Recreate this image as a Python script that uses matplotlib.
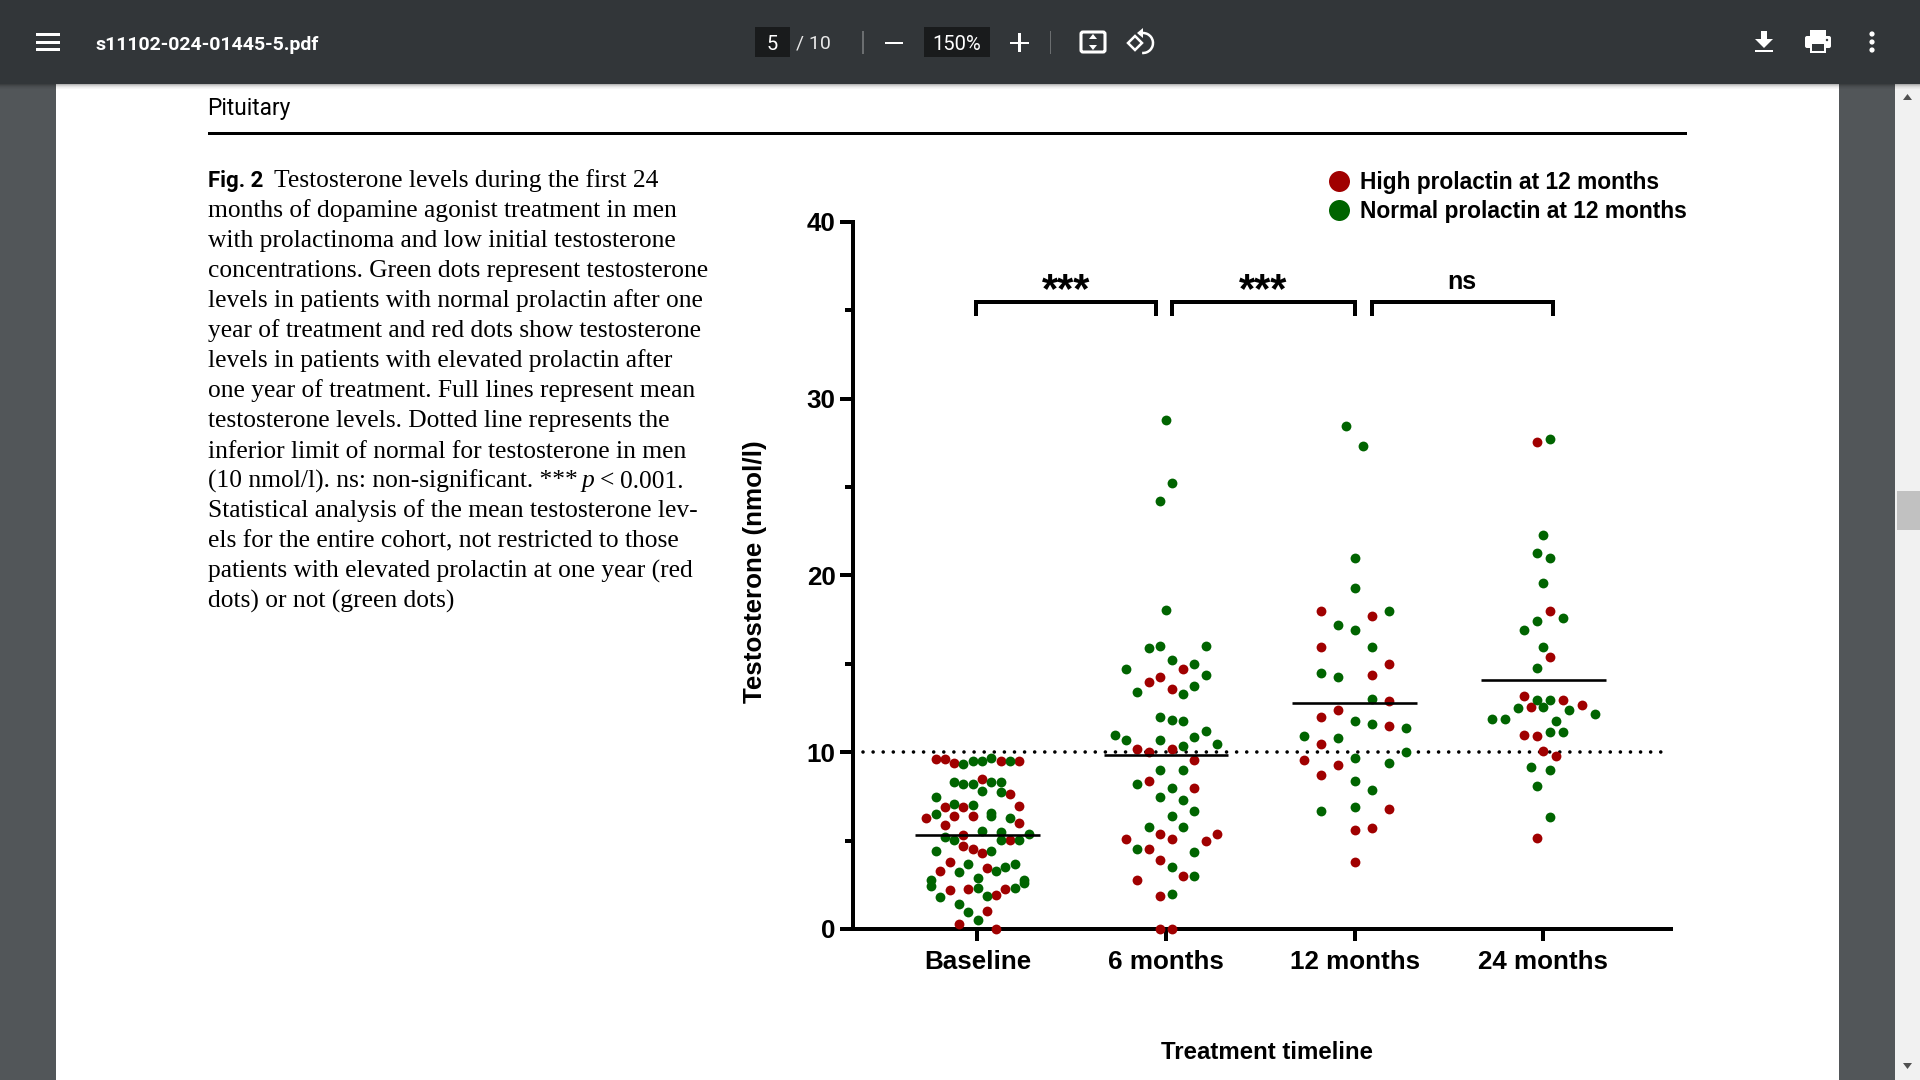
import matplotlib
matplotlib.use("Agg")
import matplotlib.pyplot as plt
from matplotlib.lines import Line2D
from matplotlib.patches import Rectangle, Circle, Polygon, Arc, FancyBboxPatch

# chart values
categories = ["Baseline", "6 months", "12 months", "24 months"]
means = [5.32, 9.87, 12.77, 14.08]
limit_normal = 10

# swarm offsets (in category widths) and testosterone values, nmol/l
base_high_dx = [-0.221, -0.173, -0.122, 0.124, 0.223, 0.027, 0.173, 0.223, -0.173, -0.074,
                -0.122, -0.025, -0.272, -0.173, 0.223, -0.074, 0.173, -0.074, -0.025, 0.027,
                -0.147, -0.196, 0.049, -0.147, -0.048, 0.148, 0.099, 0.049, -0.097, 0.099]
base_high_y = [9.60, 9.64, 9.40, 9.53, 9.51, 8.49, 7.64, 6.96, 6.91, 6.91,
               6.40, 6.40, 6.28, 5.89, 6.00, 5.30, 5.04, 4.72, 4.51, 4.28,
               3.79, 3.30, 3.47, 2.19, 2.25, 2.28, 1.91, 1.00, 0.28, 0.0]
base_norm_dx = [-0.074, -0.025, 0.027, 0.074, 0.173, -0.122, -0.074, -0.025, 0.074, 0.124,
                0.027, 0.124, -0.221, -0.122, -0.025, -0.221, 0.074, 0.074, 0.173, 0.027,
                0.124, 0.272, -0.173, -0.122, 0.124, 0.223, -0.221, 0.074, -0.048, 0.200,
                0.148, 0.099, -0.097, 0.002, -0.246, -0.246, 0.249, 0.249, 0.002, 0.200,
                -0.196, 0.049, -0.097, -0.048, 0.002]
base_norm_y = [9.32, 9.53, 9.51, 9.70, 9.51, 8.30, 8.21, 8.19, 8.30, 8.32,
               7.81, 7.75, 7.49, 7.09, 7.02, 6.51, 6.57, 6.40, 6.30, 5.55,
               5.49, 5.40, 5.21, 5.02, 5.02, 5.02, 4.40, 4.40, 3.70, 3.70,
               3.51, 3.30, 3.23, 2.91, 2.79, 2.42, 2.77, 2.58, 2.30, 2.30,
               1.81, 1.85, 1.42, 0.98, 0.49]

m6_high_dx = [0.09, -0.03, -0.09, 0.03, -0.152, -0.09, 0.03, 0.15, -0.09, 0.15,
              -0.03, 0.03, -0.21, 0.21, 0.272, -0.09, -0.03, 0.09, -0.152, -0.03, -0.03, 0.03]
m6_high_y = [14.70, 14.28, 14.0, 13.58, 10.19, 10.02, 10.19, 9.58, 8.40, 8.0,
             5.40, 5.09, 5.09, 5.0, 5.40, 4.51, 3.89, 3.0, 2.79, 1.89, 0.0, 0.0]
m6_norm_dx = [0.0, 0.03, -0.03, 0.0, -0.09, -0.03, 0.21, 0.03, 0.15, -0.21,
              0.21, 0.15, -0.152, 0.09, -0.03, 0.03, 0.09, -0.27, -0.21, -0.03,
              0.15, 0.21, 0.09, 0.272, -0.03, 0.09, -0.152, 0.03, -0.03, 0.09,
              0.15, 0.03, -0.09, 0.09, -0.152, 0.15, 0.03, 0.15, 0.03]
m6_norm_y = [28.81, 25.21, 24.21, 18.02, 15.91, 16.0, 16.0, 15.21, 15.0, 14.70,
             14.38, 13.72, 13.42, 13.30, 12.0, 11.83, 11.77, 11.0, 10.68, 10.70,
             10.89, 11.19, 10.38, 10.49, 9.0, 9.0, 8.21, 8.0, 7.49, 7.28,
             6.70, 6.40, 5.79, 5.79, 4.51, 4.36, 3.49, 3.0, 2.0]

m12_high_dx = [-0.18, 0.092, -0.18, 0.182, 0.092, 0.182, -0.09, -0.18, 0.182, -0.18,
               -0.27, -0.09, -0.18, 0.182, 0.092, 0.0, 0.0]
m12_high_y = [17.99, 17.70, 15.98, 14.99, 14.39, 12.88, 12.38, 11.99, 11.46, 10.49,
              9.57, 9.30, 8.69, 6.78, 5.71, 5.59, 3.78]
m12_norm_dx = [-0.046, 0.046, 0.0, 0.0, 0.182, -0.09, 0.0, 0.092, -0.18, -0.09,
               0.092, 0.0, 0.092, 0.274, -0.27, -0.09, 0.274, 0.0, 0.182, 0.0,
               0.092, -0.18, 0.0]
m12_norm_y = [28.48, 27.31, 20.99, 19.30, 17.99, 17.19, 16.90, 15.95, 14.48, 14.25,
              13.0, 11.77, 11.60, 11.38, 10.90, 10.78, 10.0, 9.67, 9.38, 8.38,
              7.89, 6.69, 6.88]

m24_high_dx = [-0.034, 0.035, 0.035, -0.10, -0.067, 0.102, 0.203, -0.10, -0.034, 0.0, 0.069, -0.034]
m24_high_y = [27.58, 17.99, 15.38, 13.16, 12.57, 12.98, 12.69, 10.97, 10.92, 10.08, 9.77, 5.17]
m24_norm_dx = [0.035, 0.0, -0.034, 0.035, 0.0, 0.102, -0.034, -0.10, 0.0, -0.034,
               -0.034, 0.035, -0.136, 0.0, 0.136, 0.272, -0.27, -0.203, 0.069, 0.035,
               0.102, -0.067, 0.035, -0.034, 0.035]
m24_norm_y = [27.74, 22.28, 21.29, 20.99, 19.59, 17.62, 17.41, 16.90, 15.98, 14.78,
              12.98, 12.98, 12.50, 12.57, 12.38, 12.14, 11.87, 11.87, 11.77, 11.17,
              11.17, 9.18, 8.97, 8.09, 6.32]

high_groups = [(base_high_dx, base_high_y), (m6_high_dx, m6_high_y),
               (m12_high_dx, m12_high_y), (m24_high_dx, m24_high_y)]
norm_groups = [(base_norm_dx, base_norm_y), (m6_norm_dx, m6_norm_y),
               (m12_norm_dx, m12_norm_y), (m24_norm_dx, m24_norm_y)]

caption_lines = [
    "Testosterone levels during the first 24",
    "months of dopamine agonist treatment in men",
    "with prolactinoma and low initial testosterone",
    "concentrations. Green dots represent testosterone",
    "levels in patients with normal prolactin after one",
    "year of treatment and red dots show testosterone",
    "levels in patients with elevated prolactin after",
    "one year of treatment. Full lines represent mean",
    "testosterone levels. Dotted line represents the",
    "inferior limit of normal for testosterone in men",
    "(10 nmol/l). ns: non-significant. *** ",
    "Statistical analysis of the mean testosterone lev-",
    "els for the entire cohort, not restricted to those",
    "patients with elevated prolactin at one year (red",
    "dots) or not (green dots)",
]

RED = "#a00000"
GREEN = "#006400"
BAR = "#323639"
GUTTER = "#525659"
WELL = "#191b1c"
PX = 0.72  # one pixel in points at dpi 100


def rect(ax, x0, y0, x1, y1, color, z=1, alpha=None):
    ax.add_patch(Rectangle((x0, y0), x1 - x0, y1 - y0, fc=color, ec="none", zorder=z, alpha=alpha))


def draw_viewer(ax):
    # pdf viewer chrome, in screen pixels
    rect(ax, 0, 0, 1920, 1080, GUTTER, 0)
    rect(ax, 56, 84, 1839, 1080, "white", 0.5)
    rect(ax, 1895, 84, 1920, 1080, "#f1f1f1", 0.6)
    rect(ax, 1897, 491, 1920, 530, "#c1c1c1", 0.7)
    ax.add_patch(Polygon([(1903, 100), (1912, 100), (1907.5, 94)], fc="#505050", ec="none"))
    ax.add_patch(Polygon([(1903, 1063), (1912, 1063), (1907.5, 1069)], fc="#505050", ec="none"))
    rect(ax, 0, 0, 1920, 84, BAR, 3)
    for i, a in enumerate([0.28, 0.18, 0.11, 0.06, 0.03]):
        rect(ax, 0, 84 + i, 1920, 85 + i, "black", 2, a)

    for y in (33, 41, 48):
        rect(ax, 36, y, 60, y + 3, "white", 4)
    ax.text(96, 45, "s11102-024-01445-5.pdf", color="white", fontsize=14, family="Roboto",
            weight="bold", va="center", zorder=4)

    rect(ax, 755, 27, 790, 57, WELL, 4)
    ax.text(772.5, 44, "5", color="white", fontsize=14.5, family="Roboto", ha="center", va="center", zorder=5)
    ax.text(796, 44, "/ 10", color="#e8e8e8", fontsize=14, family="Roboto", va="center", zorder=5)
    rect(ax, 862, 31, 864, 54, "#6b6e70", 4)
    rect(ax, 885, 41.5, 903, 44, "white", 4)
    rect(ax, 924, 27, 990, 57, WELL, 4)
    ax.text(957, 44, "150%", color="white", fontsize=14.5, family="Roboto", ha="center", va="center", zorder=5)
    rect(ax, 1010, 41.5, 1029, 44, "white", 4)
    rect(ax, 1018.3, 33, 1020.7, 52, "white", 4)
    rect(ax, 1049.5, 31, 1051, 54, "#6b6e70", 4)

    # fit to page
    ax.add_patch(FancyBboxPatch((1081, 32), 24, 20, boxstyle="round,pad=0,rounding_size=2",
                                fc="none", ec="white", lw=2.2, zorder=4))
    ax.add_patch(Polygon([(1089, 39), (1097, 39), (1093, 34)], fc="white", ec="none", zorder=4))
    ax.add_patch(Polygon([(1089, 45), (1097, 45), (1093, 50)], fc="white", ec="none", zorder=4))
    # rotate
    ax.add_patch(Polygon([(1135, 36), (1142, 43), (1135, 50), (1128, 43)], fc="none", ec="white", lw=1.8, zorder=4))
    ax.add_patch(Arc((1143, 43), 20, 20, theta1=-115, theta2=95, ec="white", lw=1.8, zorder=4))
    ax.add_patch(Polygon([(1143, 28), (1143, 38), (1137, 33)], fc="white", ec="none", zorder=4))

    # download
    rect(ax, 1761, 31, 1767, 40, "white", 4)
    ax.add_patch(Polygon([(1755, 39), (1773, 39), (1764, 48)], fc="white", ec="none", zorder=4))
    rect(ax, 1755, 50, 1773, 52, "white", 4)
    # print
    rect(ax, 1810, 30, 1826, 36, "white", 4)
    ax.add_patch(FancyBboxPatch((1805, 36), 26, 12, boxstyle="round,pad=0,rounding_size=2",
                                fc="white", ec="none", zorder=4))
    rect(ax, 1810, 44, 1826, 53, "white", 4)
    rect(ax, 1812, 44, 1824, 51, BAR, 5)
    ax.add_patch(Circle((1827, 40), 1.2, fc=BAR, ec="none", zorder=5))
    # menu dots
    for y in (34, 42, 50):
        ax.add_patch(Circle((1872, y), 2.6, fc="white", ec="none", zorder=4))


def draw_page(ax):
    ax.text(207.5, 109, "Pituitary", fontsize=16.3, family="Roboto", va="center", color="black")
    rect(ax, 208, 132, 1687, 135, "black", 1)

    serif = dict(fontsize=18.4, family="Liberation Serif", va="baseline", color="black")
    ax.text(208, 187.5, "Fig. 2", fontsize=16, family="Roboto", weight="bold", va="baseline")
    for i, line in enumerate(caption_lines):
        x = 274 if i == 0 else 208
        ax.text(x, 187.5 + 30 * i, line, **serif)
    ax.text(582, 187.5 + 300, "p", style="italic", **serif)
    ax.text(600, 187.5 + 300, "<", **serif)
    ax.text(620, 187.5 + 300, "0.001.", **serif)


def draw_chart(ax):
    for i in range(4):
        hx, hy = high_groups[i]
        nx, ny = norm_groups[i]
        ax.scatter([i + d for d in hx], hy, s=50, color=RED, linewidths=0, clip_on=False, zorder=3)
        ax.scatter([i + d for d in nx], ny, s=50, color=GREEN, linewidths=0, clip_on=False, zorder=3)
        ax.plot([i - 0.33, i + 0.33], [means[i], means[i]], color="black", lw=2.6 * PX, zorder=4,
                solid_capstyle="butt")

    ax.plot([-0.608, 3.66], [limit_normal, limit_normal], color="black", lw=3.6 * PX, zorder=2,
            linestyle=(0, (0.01, 2.795)), dash_capstyle="round")

    ax.set_xlim(-0.661, 3.677)
    ax.set_ylim(0, 40)
    ax.set_xticks(range(4))
    ax.set_xticklabels(categories, fontsize=18.7, family="Liberation Sans", weight="bold")
    ax.set_yticks([0, 10, 20, 30, 40])
    ax.set_yticklabels(["0", "10", "20", "30", "40"], fontsize=18.7, family="Liberation Sans", weight="bold")
    ax.set_yticks([5, 15, 25, 35], minor=True)
    ax.tick_params(axis="x", length=12 * PX, width=4 * PX, pad=6.5)
    ax.tick_params(axis="y", which="major", length=13 * PX, width=4 * PX, pad=3)
    ax.tick_params(axis="y", which="minor", length=8 * PX, width=4 * PX)
    for side in ("top", "right"):
        ax.spines[side].set_visible(False)
    for side in ("left", "bottom"):
        ax.spines[side].set_linewidth(4 * PX)
    ax.patch.set_alpha(0)

    ax.set_xlabel("Treatment timeline", fontsize=17.3, family="Liberation Sans", weight="bold", va="center")
    ax.xaxis.set_label_coords(0.506, -0.175)
    ax.set_ylabel("Testosterone (nmol/l)", fontsize=18.7, family="Liberation Sans", weight="bold", va="center")
    ax.yaxis.set_label_coords(-0.119, 0.506)

    # significance brackets
    brackets = [(-0.01, 0.949, "***"), (1.033, 2.0, "***"), (2.09, 3.05, "ns")]
    for x0, x1, mark in brackets:
        ax.plot([x0, x0, x1, x1], [34.7, 35.5, 35.5, 34.7], color="black", lw=4 * PX, clip_on=False,
                solid_joinstyle="miter", solid_capstyle="butt")
        if mark == "ns":
            ax.text((x0 + x1) / 2, 35.95, mark, fontsize=18, family="Liberation Sans", weight="bold",
                    ha="center", va="bottom")
        else:
            ax.text((x0 + x1) / 2, 34.95, mark, fontsize=30, family="Liberation Sans", weight="bold",
                    ha="center", va="bottom")

    handles = [Line2D([], [], marker="o", ls="none", color=RED, ms=21 * PX, mew=0),
               Line2D([], [], marker="o", ls="none", color=GREEN, ms=21 * PX, mew=0)]
    ax.figure.legend(handles, ["High prolactin at 12 months", "Normal prolactin at 12 months"],
                     loc="upper right", bbox_to_anchor=(1687 / 1920, 1 - 171 / 1080), frameon=False,
                     borderpad=0, borderaxespad=0, labelspacing=0.27, handletextpad=0.42, handlelength=1.0,
                     prop=dict(family="Liberation Sans", weight="bold", size=16.4), alignment="left")


if __name__ == "__main__":
    fig = plt.figure(figsize=(19.2, 10.8), dpi=100, facecolor="white")
    bg = fig.add_axes([0, 0, 1, 1])
    bg.set_xlim(0, 1920)
    bg.set_ylim(1080, 0)
    bg.axis("off")
    draw_viewer(bg)
    draw_page(bg)

    ax = fig.add_axes([852.7 / 1920, 1 - 929 / 1080, (1671 - 852.7) / 1920, 707 / 1080], zorder=2)
    draw_chart(ax)

    fig.savefig("out.png", dpi=100)
    print("Saved out.png")
